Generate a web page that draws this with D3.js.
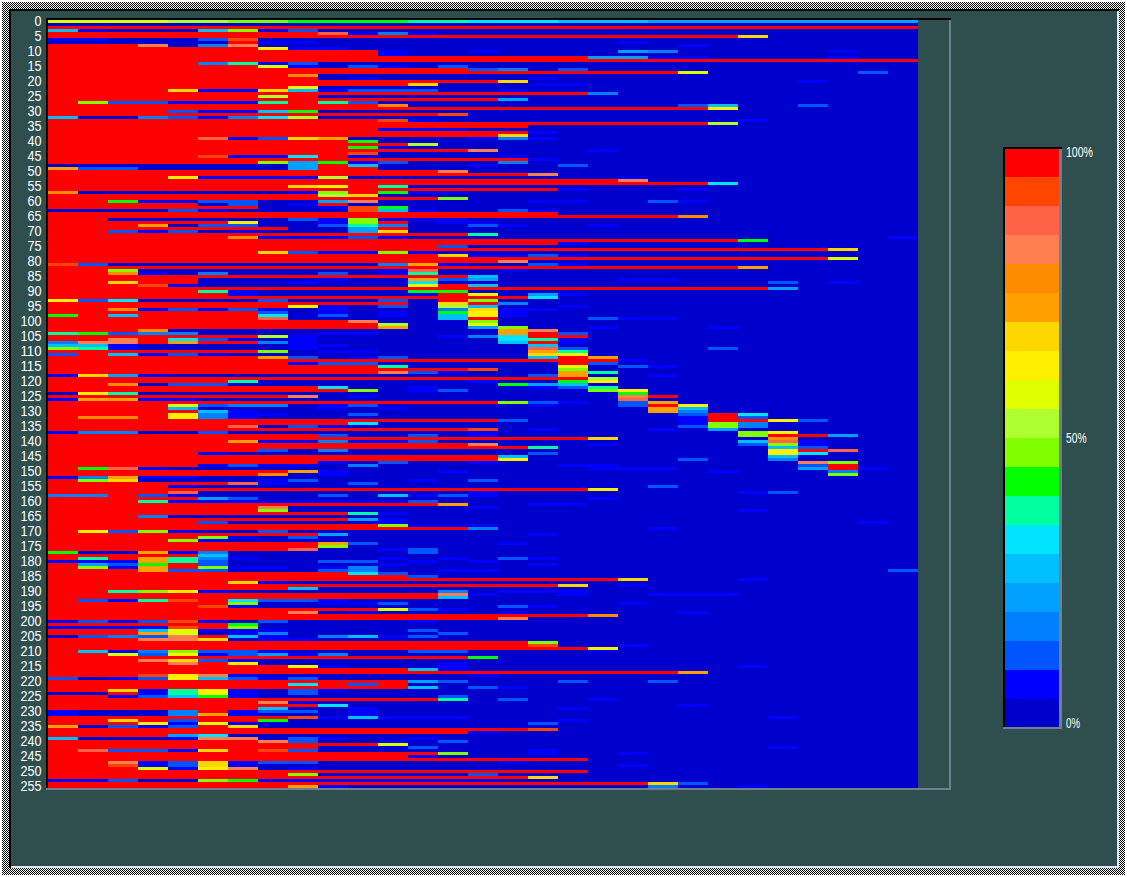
<!DOCTYPE html>
<html><head><meta charset="utf-8">
<script src="https://cdn.jsdelivr.net/npm/d3@7/dist/d3.min.js"></script>
<style>html,body{margin:0;padding:0;background:#fff;overflow:hidden}svg{display:block}</style>
</head><body><div id="c"></div>
<script>
// colour level codes, lowest (a) to highest (t)
const levelCodes = "abcdefghijklmnopqrst".split("");
const levelColors = ["#0000cd","#0000ff","#0055ff","#007fff","#00a0ff","#00bfff","#00e5ff","#00ff9f","#00ff00","#7fff00","#adff2f","#dfff00","#fff000","#ffd700","#ffa000","#ff8c00","#ff7f50","#ff6347","#ff4500","#ff0000"];
const legendLabels = [["100%",19,27,157],["50%",9,20.5,443],["0%",0,14,728]];
const rowTicks = [0,5,10,15,20,25,30,35,40,45,50,55,60,65,70,75,80,85,90,95,100,105,110,115,120,125,130,135,140,145,150,155,160,165,170,175,180,185,190,195,200,205,210,215,220,225,230,235,240,245,250,255];
const columnCount = 29;
// each row: level code followed by a repeat count; the remainder of the row is level a
const rows = [
"l4k2j2i4h2g3f3e9","a","t29","fba3fjbc","t9rbdb","t23n","b2a3cs","a6tb2a10b","t3qadqa14b","t7mb2",
"t11ba2ba4eda5b","t11b","t18e2b2a4b","t29","t5dhbc","t7lbacbac","t14cdac","t21la5c","t8p","t9aba5b",
"t15na9b","t12na3b2","t8m","t4nb2nfbc3a2b","t18d","t7kt","t15e","tjc2b3hthc","t11pa9cfa2c","t22m",
"t4cb2fi","t13s","fa2dcbdgk","t11sba10b","t22k","t16","t11b3","t16b","t15na","t5rbcnoa4bdb",
"t10i","t12k","t10ib","t14qa3b","t10s","t5sb2gtba4b","t16b","t7jeibca3d","a8etfa3ba2c","oc2a5et2",
"t13q","t16q","t4mb4ka9b","t19q","t22g","t8nmth","t17ba3b","pa7bjtib2","t9kn","t13j",
"t2ib2c2a2eqa5b2a2cb","t5acabt","t7a2bsi","a4cba4sfba2cb","t17","t21p","t2a6cbjb3","t6ma2bjtab2","t3oac2a2chda2cba2b","t8a2et",
"t2cbcaba3en","t14h","t6pb3cba16b","t23i","t17b","t13c","t26n","t7ncb2jb","t13nb2cb","t26l",
"t15q","sca9doba2cb","t23o","t2ja8bra2b","t2pbada3cabh","t14f","t5a4ba2ocea4b2","t2nt2a3ba3ga11cab","t3sba7ltf","t24e",
"t5hba5i2","t6ba5btmaeb","t16g","mcga4ca3catj","t12antd","t8lbacakfa2b","t2pbcbcbaba3dnb2","t7cababaimb","itft4gacabafmb","t7ra5fta3cb2",
"t10qa3j","t11ka2l","t11oa2eja2ba3b","t3pa11oq","hicd2a4b2a4otc","t7kba4bdgt2","t2qtgcbaba6ghb","dq2tot2dba6ftb","f2ba5b2a6f","jhba5ba7rca4c",
"t7jab2a5oh","ctfbcba10nm","t7ocabca4fto","t19b","t8bc2a6tc","t11ha5lacb","t14sa2j","t11qcba3oh","bneba12coa2b","t18k",
"t6ha7ba2im","t2pac2a9ief","t9ga2ba3bch","t10jabca4jm","amha16i","t8qaba8qt","bo2b2a14r","t15jcbaco","t4lcd2abca5ba2ctm","t4fa4baba8of",
"t5fba13od","t4mdb2a2ca10ctg","tp2tmdba14btc","t15ca5bt2mc","t10ga10bjd","t6racba11cjd","t14sabaaabae","bd2a2ca8ba8jm","t9ca2caba8jt2e","t18na5p",
"t6ob2db2ca10frb","t14qa3ba4cjb","t16ha7fc","t7cada14mtr","t5ba10ca7mg","t15fa8f","t15ma5ca2d","t9bacaaba10qj","t5bcb2ada6b2a6ct","tirba14b3a4etb",
"t8oba3ba8ba3d","t7paba16j","bdob2","tjna4bca3bac","t6rba2c","t4ba15c","t18m","t4ra9ba8bc","d2tcba4cafbcb","t5eca11b",
"t3hb8c","t13oa2b2","t7qa6b","t7ja15b","t10hb","t3d","t10eb","t5ca5ba15b","t11jb3","t14da5b",
"tmcjba2c","t9ea6b","t5jbac","t4jb","t9oca4b","t9j","t8ra2bc","ia2obda6c","t5f","thtohdba4babacb",
"b3ohca3c2abab","tecitca5ba4b","tjbotjb2abd","t3oc2a3cda2b2a13c","t10gc","t12c","t19na3b","t6nb","t17nab","t8f",
"t2hjmba7dab3","t13qba2ba2b3","t13f","tcbhstgc2b","t6ja2b2ca7b","t5sba8cb","t11lcb","t8qaba4ba5b","t18p","t15q",
"bcbcsbaca4b","t6i","b4stj","t3flb3a4c","t3olabda5c","acdcqtfbadfbc","t3q2nab2","t16j","t16sa2b","t18m",
"tfbdjc2ba4c2a4b","t2lcmbcebd","t14i","t3qncb","t4qtma6b","t8mba3ba9b","t12fb","t21o","t3smqba7b","cabcmfcbc",
"t12eca3ca2c","t8gtct","t12facb","t2nbhmbacb","a2tbhmbac","t2bcfiba6c","t13haca2b","t7qb","t9ga11b","t7fa2ba6b",
"ba3dtbc2ab","ba3doba3b","t8sbfb3a10b","t2ntct2ia9b","t3mblba9c","oacbctn","t16s","t14b","t4eg","fa3bq2acba2b",
"t7qca2bac","t11l","t9a3ca11b","trc2bntsca7b","t13ja2ba2b","t12b","t18","t2qbcnbc2a6b","t2sbcnba12b","t3lbmqab",
"t18","t8ja5c","t16n","b2ca2jib8","t20nc","t8oba10da2b"
];

const W = 1127, H = 877;
const svg = d3.select("#c").append("svg").attr("width", W).attr("height", H).attr("shape-rendering", "crispEdges");

// stippled window border
const pat = svg.append("defs").append("pattern").attr("id", "st").attr("width", 2).attr("height", 2).attr("patternUnits", "userSpaceOnUse");
pat.append("rect").attr("width", 2).attr("height", 2).attr("fill", "#fff");
pat.append("rect").attr("width", 1).attr("height", 1).attr("fill", "#000");
pat.append("rect").attr("x", 1).attr("y", 1).attr("width", 1).attr("height", 1).attr("fill", "#000");
svg.append("rect").attr("width", W).attr("height", H).attr("fill", "#fff");
svg.append("rect").attr("x", 2).attr("y", 2).attr("width", 1123).attr("height", 873).attr("fill", "url(#st)");
svg.append("rect").attr("x", 9).attr("y", 9).attr("width", 1110).attr("height", 859).attr("fill", "#e0e8ff");
svg.append("path").attr("d", "M9 868V9H1119V11H11V868Z").attr("fill", "#000");
svg.append("rect").attr("x", 11).attr("y", 11).attr("width", 1106).attr("height", 855).attr("fill", "#2f4f4f");

// scales
const x = d3.scaleBand().domain(d3.range(columnCount)).range([48, 918]);
const y = d3.scaleBand().domain(d3.range(rows.length)).range([20, 788]);
const color = d3.scaleOrdinal().domain(levelCodes).range(levelColors);

function decode(s) {
  const out = [];
  for (const m of s.matchAll(/([a-t])(\d*)/g)) {
    const n = m[2] ? +m[2] : 1;
    for (let i = 0; i < n; i++) out.push(m[1]);
  }
  while (out.length < columnCount) out.push("a");
  return out.slice(0, columnCount);
}

// heat map cells
const cells = rows.flatMap((s, r) => decode(s).map((c, k) => ({r, k, c})));
svg.append("g").selectAll("rect").data(cells).join("rect")
  .attr("x", d => x(d.k)).attr("y", d => y(d.r))
  .attr("width", x.bandwidth()).attr("height", y.bandwidth())
  .attr("fill", d => color(d.c));

// plot frame
svg.append("path").attr("d", "M46 790V18H951V20H48V790Z").attr("fill", "#000");
svg.append("path").attr("d", "M46 788H949V20H951V790H46Z").attr("fill", "#708090");

// row axis
const axis = d3.axisLeft(y).tickValues(rowTicks).tickSize(0).tickPadding(0);
const gAxis = svg.append("g").attr("transform", "translate(41.5,0)").call(axis);
gAxis.select(".domain").remove();
gAxis.selectAll("text").attr("fill", "#fff").attr("font-family", "'Liberation Sans'").attr("font-size", 14).attr("dy", "0.29em")
  .attr("textLength", d => String(d).length * 7).attr("lengthAdjust", "spacingAndGlyphs");

// colour legend
const ly = d3.scaleBand().domain(d3.range(levelColors.length - 1, -1, -1)).range([148, 728]);
svg.append("g").selectAll("rect").data(levelColors).join("rect")
  .attr("x", 1005).attr("width", 54).attr("y", (d, i) => ly(i)).attr("height", ly.bandwidth())
  .attr("fill", d => d);
svg.append("path").attr("d", "M1003 729V147H1062V149H1005V729Z").attr("fill", "#000");
svg.append("path").attr("d", "M1003 727H1059V149H1062V729H1003Z").attr("fill", "#708090");
svg.append("g").selectAll("text").data(legendLabels).join("text")
  .attr("x", 1066).attr("y", d => d[3])
  .attr("fill", "#fff").attr("font-family", "'Liberation Sans'").attr("font-size", 14)
  .attr("textLength", d => d[2]).attr("lengthAdjust", "spacingAndGlyphs")
  .text(d => d[0]);
</script></body></html>
